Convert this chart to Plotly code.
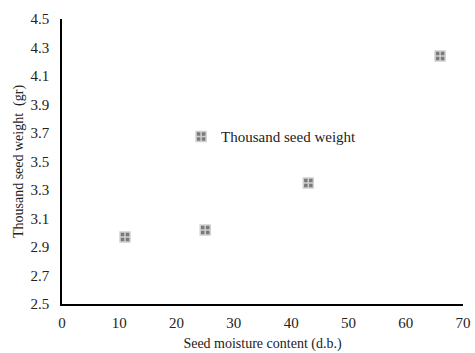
import plotly.graph_objects as go

moisture = [11, 25, 43, 66]
weight = [2.97, 3.02, 3.35, 4.24]
series_name = "Thousand seed weight"
x_ticks = [0, 10, 20, 30, 40, 50, 60, 70]
y_ticks = [2.5, 2.7, 2.9, 3.1, 3.3, 3.5, 3.7, 3.9, 4.1, 4.3, 4.5]

serif = "Liberation Serif, Times New Roman, serif"

fig = go.Figure()
fig.add_trace(go.Scatter(
    x=moisture, y=weight, mode="markers", name=series_name,
    marker=dict(symbol="square-cross", size=10, color="#7a7a7a",
                line=dict(color="#d0d0d0", width=1.5)),
))

fig.update_layout(
    width=475, height=353,
    margin=dict(l=62, r=4, t=19, b=49),
    paper_bgcolor="white", plot_bgcolor="white",
    font=dict(family=serif, size=15, color="#222222"),
    showlegend=True,
    legend=dict(x=0.297, y=0.587, xanchor="left", yanchor="middle",
                bgcolor="rgba(0,0,0,0)", font=dict(family=serif, size=15, color="#222222")),
    xaxis=dict(range=[0, 70], tickvals=x_ticks, ticktext=[str(v) for v in x_ticks],
               tickfont=dict(family=serif, size=15, color="#222222"),
               ticklabeloverflow="allow", ticklabelstandoff=4,
               showgrid=False, zeroline=False, showline=True, linecolor="black", linewidth=1.5,
               ticks="", title=dict(text="Seed moisture content (d.b.)",
                                    font=dict(family=serif, size=14, color="#222222"), standoff=8)),
    yaxis=dict(range=[2.5, 4.5], tickvals=y_ticks, ticktext=[f"{v:.1f}" for v in y_ticks],
               tickfont=dict(family=serif, size=15, color="#222222"),
               ticklabeloverflow="allow", ticklabelstandoff=8,
               showgrid=False, zeroline=False, showline=True, linecolor="black", linewidth=1.5,
               ticks="", title=dict(text="Thousand seed weight  (gr)",
                                    font=dict(family=serif, size=14, color="#222222"), standoff=4)),
)
fig.write_html("out.html")
